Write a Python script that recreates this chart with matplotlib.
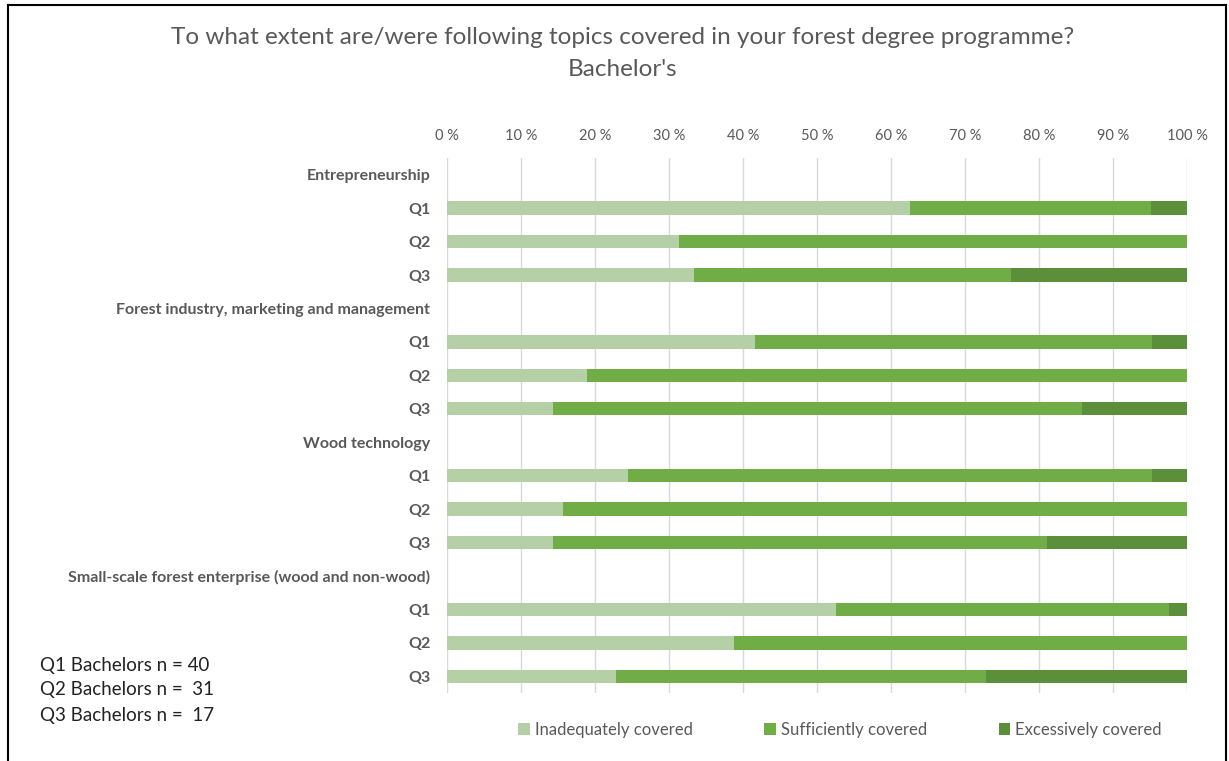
import matplotlib.pyplot as plt
import matplotlib.lines as mlines
import numpy as np

# rows of the chart (topic headers + Q1..Q3 under each)
labels = ["Entrepreneurship", "Q1", "Q2", "Q3",
          "Forest industry, marketing and management", "Q1", "Q2", "Q3",
          "Wood technology", "Q1", "Q2", "Q3",
          "Small-scale forest enterprise (wood and non-wood)", "Q1", "Q2", "Q3"]

# percent of respondents
inadequate = [0, 62.5, 31.3, 33.4, 0, 41.6, 18.9, 14.3, 0, 24.5, 15.7, 14.3, 0, 52.6, 38.8, 22.8]
sufficient = [0, 32.7, 68.7, 42.8, 0, 53.7, 81.1, 71.5, 0, 70.8, 84.3, 66.8, 0, 45.0, 61.2, 50.1]
excessive = [0, 4.8, 0, 23.8, 0, 4.7, 0, 14.2, 0, 4.7, 0, 18.9, 0, 2.4, 0, 27.1]

series_names = ["Inadequately covered", "Sufficiently covered", "Excessively covered"]
colors = ["#b5cfa7", "#70ad47", "#5b8f3a"]

notes = ["Q1 Bachelors n = 40", "Q2 Bachelors n =  31", "Q3 Bachelors n =  17"]

plt.rcParams['font.family'] = ['Lato', 'DejaVu Sans']
grey = "#595959"

fig = plt.figure(figsize=(12.29, 7.61), dpi=100)
ax = fig.add_axes([447 / 1229, 1 - 693 / 761, 740 / 1229, 535 / 761])

y = np.arange(len(labels))
inad = np.array(inadequate)
suff = np.array(sufficient)
exc = np.array(excessive)
ax.barh(y, inad, height=0.4, color=colors[0], label=series_names[0], linewidth=0, zorder=3)
ax.barh(y, suff, left=inad, height=0.4, color=colors[1], label=series_names[1], linewidth=0, zorder=3)
ax.barh(y, exc, left=inad + suff, height=0.4, color=colors[2], label=series_names[2], linewidth=0, zorder=3)

ax.set_xlim(0, 100)
ax.set_ylim(len(labels) - 0.5, -0.5)
ax.set_xticks(np.arange(0, 101, 10))
ax.set_xticklabels([f"{v} %" for v in range(0, 101, 10)])
ax.xaxis.tick_top()
ax.tick_params(axis='x', length=0, pad=11, labelsize=10.5, labelcolor=grey)
ax.set_yticks(y)
ax.set_yticklabels(labels)
ax.tick_params(axis='y', length=0, pad=12, labelsize=11.5, labelcolor=grey)
for t in ax.get_yticklabels():
    t.set_fontweight('bold')
ax.grid(axis='x', color="#d9d9d9", linewidth=1, zorder=0)
for s in ax.spines.values():
    s.set_visible(False)

fig.text(623 / 1229, 1 - 38 / 761, "To what extent are/were following topics covered in your forest degree programme?",
         ha='center', va='center', fontsize=17.5, color=grey)
fig.text(623 / 1229, 1 - 69 / 761, "Bachelor's", ha='center', va='center', fontsize=17.5, color=grey)

for i, n in enumerate(notes):
    fig.text(40 / 1229, 1 - (665 + i * 25) / 761, n, ha='left', va='center', fontsize=13.5, color="#222222")

handles, lbls = ax.get_legend_handles_labels()
fig.legend(handles, lbls, loc='center', bbox_to_anchor=(840 / 1229, 1 - 730 / 761), ncol=3,
           frameon=False, fontsize=12, handlelength=0.7, handleheight=0.7, handletextpad=0.3,
           columnspacing=4.3, labelcolor=grey)

# frame around the picture
frame = dict(color='black', linewidth=1.5, transform=fig.transFigure)
fig.add_artist(mlines.Line2D([8 / 1229, 8 / 1229], [0, 1 - 5 / 761], **frame))
fig.add_artist(mlines.Line2D([8 / 1229, 1226 / 1229], [1 - 5 / 761, 1 - 5 / 761], **frame))
fig.add_artist(mlines.Line2D([1226 / 1229, 1226 / 1229], [0, 1 - 5 / 761], **frame))

fig.savefig("out.png", dpi=100)
